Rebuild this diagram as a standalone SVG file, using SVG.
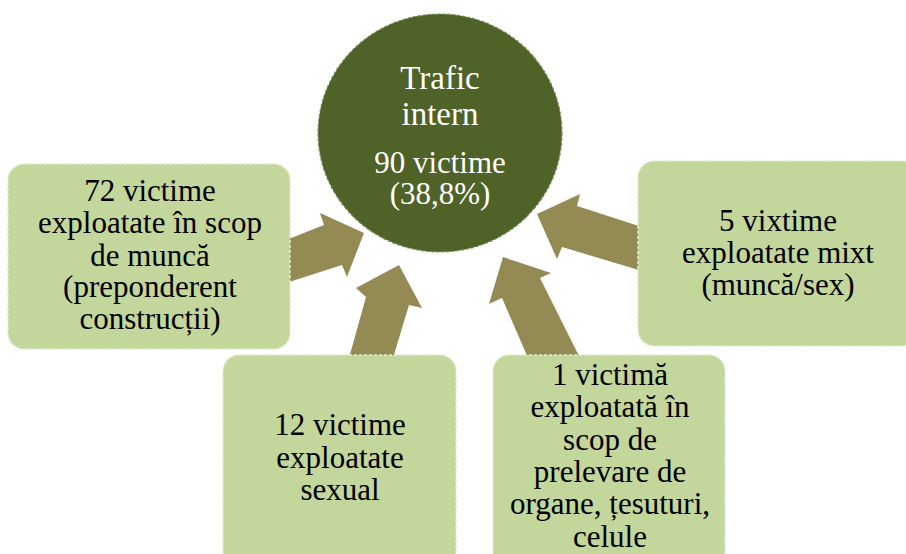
<svg xmlns="http://www.w3.org/2000/svg" width="906" height="554" viewBox="0 0 906 554">
<style>
.box{fill:#c3d69b;stroke:#e2ecd0;stroke-width:1.5;stroke-dasharray:3 2}
.arr{fill:#948a54}
.t{font-family:"Liberation Serif","Times New Roman",serif;font-size:31px;fill:#000;text-anchor:middle}
.w{font-family:"Liberation Serif","Times New Roman",serif;fill:#ffffff;text-anchor:middle}
</style>
<rect width="906" height="554" fill="#ffffff"/>
<g id="connectors">
<polygon class="arr" points="286,240 324,225 320,213 364,233 347,277 342,265 286,283"/>
<polygon class="arr" points="399,265 422,308 409,305 393,358 349,358 366,297 356,288"/>
<polygon class="arr" points="503,257 551,273 540,278 580,358 528,358 502,298 489,304"/>
<polygon class="arr" points="537,214 580,194 577,206 642,227 642,271 562,247 557,259"/>
</g>
<g id="center">
<ellipse cx="440" cy="133" rx="122" ry="119" fill="#4f6228" stroke="#7a8a5a" stroke-width="1.2" stroke-dasharray="3 2"/>
<text class="w" x="440" y="89" font-size="33">Trafic</text>
<text class="w" x="440" y="125" font-size="33">intern</text>
<text class="w" x="440" y="173" font-size="31">90 victime</text>
<text class="w" x="440" y="204" font-size="31">(38,8%)</text>
</g>
<g id="box-munca">
<rect class="box" x="8" y="164" width="282" height="185" rx="16"/>
<text class="t" x="150" y="201">72 victime</text>
<text class="t" x="150" y="233">exploatate în scop</text>
<text class="t" x="150" y="266">de muncă</text>
<text class="t" x="150" y="297">(preponderent</text>
<text class="t" x="150" y="329">construcții)</text>
</g>
<g id="box-mixt">
<rect class="box" x="638" y="161" width="280" height="185" rx="16"/>
<text class="t" x="778" y="231">5 vixtime</text>
<text class="t" x="778" y="263">exploatate mixt</text>
<text class="t" x="778" y="295">(muncă/sex)</text>
</g>
<g id="box-sexual">
<rect class="box" x="223" y="355" width="233" height="215" rx="16"/>
<text class="t" x="340" y="435">12 victime</text>
<text class="t" x="340" y="468">exploatate</text>
<text class="t" x="340" y="500">sexual</text>
</g>
<g id="box-organe">
<rect class="box" x="493" y="355" width="232" height="215" rx="16"/>
<text class="t" x="610" y="385">1 victimă</text>
<text class="t" x="610" y="417">exploatată în</text>
<text class="t" x="610" y="450">scop de</text>
<text class="t" x="610" y="482">prelevare de</text>
<text class="t" x="610" y="514">organe, țesuturi,</text>
<text class="t" x="610" y="547">celule</text>
</g>
</svg>
